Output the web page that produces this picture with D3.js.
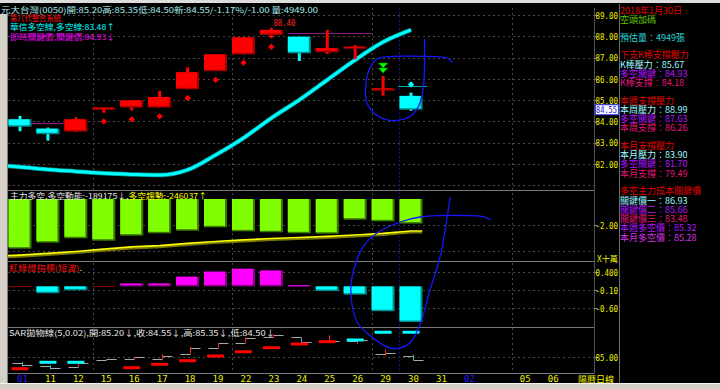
<!DOCTYPE html>
<html>
<head>
<meta charset="utf-8">
<script src="https://cdn.jsdelivr.net/npm/d3@7"></script>
<style>
  html, body { margin: 0; padding: 0; background: #000; overflow: hidden; }
</style>
</head>
<body>
<div id="chart"></div>
<script>
// ---- data ----
const dates = ["01", "11", "12", "15", "16", "17", "18", "19", "22", "23", "24", "25", "26", "29", "30", "31", "02", "", "05", "06"];
const monthMarkIdx = [0, 16];
const weekBreaks = [2.5, 7.5, 12.5, 17.5];
const todayBreak = 13.5;

const opens  = [84.10, 83.66, 83.52, 84.55, 84.65, 84.65, 85.51, 86.36, 87.15, 88.06, 87.98, 87.25, 87.46, 85.45, 85.20];
const highs  = [84.26, 83.71, 84.20, 84.65, 84.99, 85.43, 86.54, 87.15, 87.95, 88.40, 87.98, 88.30, 87.59, 86.13, 85.35];
const lows   = [83.54, 83.10, 83.50, 84.41, 84.51, 84.65, 85.51, 86.36, 87.15, 87.91, 86.84, 87.17, 86.92, 85.21, 84.50];
const closes = [83.75, 83.40, 84.10, 84.65, 84.99, 85.15, 86.31, 87.15, 87.95, 88.30, 87.20, 87.44, 87.51, 85.55, 84.55];
const volume = 4949;
// band value of the day before the first bar, then one per bar
const bandPrev = 81.95;
const bandLine = [81.86, 81.74, 81.65, 81.56, 81.51, 81.48, 81.72, 82.42, 83.22, 84.16, 85.01, 85.95, 86.89, 87.73, 88.30];
const supportDots = [null, null, null, 84.00, 84.10, 84.24, 85.10, 85.95, 86.76, 87.51, null, null, null, null, null];
const resistDots  = [null, null, null, null, null, null, null, null, null, null, null, null, null, null, 85.74];
const keyLevels = [{ from: 0, to: 2, value: 83.91 }, { from: 10, to: 13, value: 88.14 }];
const sellSignals = [13];
const highLabelIdx = 9;

const momentum = [-3.82, -3.36, -3.02, -3.21, -2.82, -2.64, -2.44, -2.18, -2.49, -2.56, -2.64, -2.67, -1.59, -1.72, -1.89175];
const trendPrev = -4.42;
const trend    = [-4.31, -4.19, -4.04, -3.85, -3.69, -3.58, -3.42, -3.27, -3.15, -3.04, -2.96, -2.88, -2.77, -2.65, -2.46037];
const signal   = [0, -0.19, -0.11, 0, 0.08, 0.08, 0.27, 0.41, 0.49, 0.44, 0.03, -0.13, -0.23, -0.69, -0.99];
const sar      = [83.23, 84.20, 84.20, null, 83.38, 83.89, 84.44, 85.15, 85.80, 86.41, 86.97, 87.32, 87.58, 88.75, 88.75];

const priceTicks = [89, 88, 87, 86, 85, 84, 83, 82];
const priceGrid = [89, 88, 87, 86, 85, 84, 83, 82, 81];
const momTicks = [-2];
const momGrid = [-2, -4];
const sigTicks = [0.4, -0.1, -0.6];
const sigLabels = ["0.400", "-0.10", "-0.60"];
const sarTicks = [85];

const infoDate = "2018年1月30日";
const infoSignal = "空頭加碼";
const infoGroups = [
  { title: "下支K棒支撐壓力", items: [["K棒壓力", 85.67], ["多空關鍵", 84.93], ["K棒支撐", 84.18]] },
  { title: "本週支撐壓力", items: [["本周壓力", 88.99], ["多空關鍵", 87.63], ["本周支撐", 86.26]] },
  { title: "本月支撐壓力", items: [["本月壓力", 83.90], ["多空關鍵", 81.70], ["本月支撐", 79.49]] },
  { title: "多空主力成本關鍵價", items: [["關鍵價一", 86.93], ["關鍵價二", 85.66], ["關鍵價三", 83.48], ["本週多空價", 85.32], ["本月多空價", 85.28]] }
];

// hand drawn marks, in (slot, price) and (slot, signal value)
const noteLoop = [[15.50, 86.75], [15.29, 86.98], [14.68, 87.05], [13.96, 87.07], [13.25, 87.05], [12.78, 86.93], [12.50, 86.42], [12.37, 85.57], [12.42, 84.87], [12.71, 84.35], [13.14, 84.07], [13.61, 84.07], [14.03, 84.30], [14.32, 84.87], [14.45, 85.71], [14.48, 86.65], [14.48, 87.87]];
const noteHook = [[16.86, 1.844], [16.54, 1.942], [15.93, 1.969], [15.04, 1.969], [14.32, 1.928], [13.61, 1.789], [12.78, 1.483], [12.28, 1.094], [12.00, 0.594], [11.85, 0.039], [11.89, -0.517], [12.07, -0.989], [12.42, -1.294], [12.89, -1.572], [13.25, -1.711], [13.61, -1.711], [13.96, -1.572], [14.32, -1.072], [14.68, -0.100], [15.04, 0.817], [15.25, 1.706], [15.40, 2.483]];

// ---- setup ----
const cjk = "'Noto Sans CJK TC', 'Noto Sans CJK SC', sans-serif";
const mono = "'DejaVu Sans Mono', 'Liberation Mono', monospace";
const yellow = "#f0f000";

const left = 8, axisX = 594.5, sepX = 619.5, topY = 8, bottomY = 373;
const sepYs = [190, 261, 327, 373];

const svg = d3.select("#chart").append("svg")
  .attr("width", 720).attr("height", 389)
  .style("display", "block").style("background", "#000");

svg.append("defs").append("clipPath").attr("id", "plot-clip")
  .append("rect").attr("x", left).attr("y", 0).attr("width", axisX - left).attr("height", bottomY);

const x = d3.scaleLinear().domain([0, dates.length - 1]).range([20, 550.7]);
const bodyW = 23;
const yP = d3.scaleLinear().domain([82, 89]).range([164, 15]);
const yM = d3.scaleLinear().domain([0, -2]).range([199, 225]);
const yS = d3.scaleLinear().domain([0.4, -0.6]).range([272, 308]);
const yR = d3.scaleLinear().domain([85, 89]).range([357, 330.6]);
const crisp = (v) => Math.round(v) + 0.5;

function bevel(g, x0, y0, w, h, fill, shade) {
  g.append("rect").attr("x", x0).attr("y", y0).attr("width", w).attr("height", h).attr("fill", shade);
  g.append("rect").attr("x", x0).attr("y", y0)
    .attr("width", Math.max(0, w - 2)).attr("height", Math.max(1, h - 1.5)).attr("fill", fill);
}

function txt(g, x0, y0, parts, size, len, family) {
  const t = g.append("text").attr("x", x0).attr("y", y0)
    .attr("dominant-baseline", "central")
    .attr("font-family", family || cjk).attr("font-size", size);
  parts.forEach((p) => t.append("tspan").attr("fill", p[1]).text(p[0]));
  if (len) t.attr("textLength", len).attr("lengthAdjust", "spacingAndGlyphs");
  return t;
}

// ---- grid ----
const grid = svg.append("g").attr("stroke", "#474747").attr("stroke-dasharray", "2,3");
priceGrid.forEach((v) => grid.append("line").attr("x1", left).attr("x2", axisX).attr("y1", crisp(yP(v))).attr("y2", crisp(yP(v))));
momGrid.forEach((v) => grid.append("line").attr("x1", left).attr("x2", axisX).attr("y1", crisp(yM(v))).attr("y2", crisp(yM(v))));
sigTicks.forEach((v) => grid.append("line").attr("x1", left).attr("x2", axisX).attr("y1", crisp(yS(v))).attr("y2", crisp(yS(v))));
sarTicks.forEach((v) => grid.append("line").attr("x1", left).attr("x2", axisX).attr("y1", crisp(yR(v))).attr("y2", crisp(yR(v))));
weekBreaks.forEach((b) => grid.append("line")
  .attr("x1", crisp(x(b) + 3)).attr("x2", crisp(x(b) + 3)).attr("y1", topY).attr("y2", bottomY));

svg.append("line")
  .attr("x1", crisp(x(todayBreak) + 2)).attr("x2", crisp(x(todayBreak) + 2))
  .attr("y1", topY).attr("y2", bottomY)
  .attr("stroke", "#10108c").attr("stroke-dasharray", "2,2");

// panel separators and axis lines
sepYs.forEach((s) => svg.append("line").attr("x1", left).attr("x2", axisX).attr("y1", s + 0.5).attr("y2", s + 0.5).attr("stroke", "#7a7a7a"));
svg.append("line").attr("x1", axisX).attr("x2", axisX).attr("y1", topY).attr("y2", bottomY).attr("stroke", "#505050");
svg.append("line").attr("x1", sepX).attr("x2", sepX).attr("y1", 4).attr("y2", 383).attr("stroke", "#6e6e6e");

// ---- main panel ----
const gMain = svg.append("g").attr("clip-path", "url(#plot-clip)");
keyLevels.forEach((k) => gMain.append("line")
  .attr("x1", x(k.from) - bodyW / 2).attr("x2", x(k.to) - bodyW / 2)
  .attr("y1", crisp(yP(k.value))).attr("y2", crisp(yP(k.value)))
  .attr("stroke", "#8a1a8a"));

const bandPts = [[-1, bandPrev]].concat(bandLine.map((v, i) => [i, v]));
const bandGen = d3.line().x((d) => x(d[0])).y((d) => yP(d[1])).curve(d3.curveMonotoneX);
gMain.append("path").datum(bandPts).attr("fill", "none").attr("stroke", "#008c8c").attr("stroke-width", 4.5).attr("d", bandGen);
gMain.append("path").datum(bandPts).attr("fill", "none").attr("stroke", "#00ffff").attr("stroke-width", 3).attr("d", bandGen);

const candles = opens.map((o, i) => ({ i, o, h: highs[i], l: lows[i], c: closes[i] }));
candles.forEach((d) => {
  const up = d.c >= d.o;
  const fill = up ? "#ff0000" : "#00ffff";
  const shade = up ? "#a00000" : "#008c8c";
  const cx = x(d.i);
  gMain.append("rect").attr("x", cx - 1.5).attr("y", yP(d.h)).attr("width", 3)
    .attr("height", Math.max(1, yP(d.l) - yP(d.h))).attr("fill", fill);
  const top = yP(Math.max(d.o, d.c)), bot = yP(Math.min(d.o, d.c));
  bevel(gMain, cx - bodyW / 2, top, bodyW, Math.max(2, bot - top), fill, shade);
});

const dotSym = d3.symbol().type(d3.symbolSquare).size(20);
supportDots.forEach((v, i) => {
  if (v == null) return;
  gMain.append("path").attr("d", dotSym).attr("fill", "#ff0000")
    .attr("transform", `translate(${x(i)},${yP(v)}) rotate(45)`);
});
resistDots.forEach((v, i) => {
  if (v == null) return;
  const k = infoGroups[0].items[0][1];
  gMain.append("line").attr("x1", x(i) - 13).attr("x2", x(i) + 16)
    .attr("y1", crisp(yP(k))).attr("y2", crisp(yP(k))).attr("stroke", "#00a8a8");
  gMain.append("path").attr("d", dotSym).attr("fill", "#00ffff")
    .attr("transform", `translate(${x(i)},${yP(v)}) rotate(45)`);
});

sellSignals.forEach((i) => {
  const cx = x(i), ty = yP(highs[i]) - 3;
  [0, 5].forEach((off) => {
    gMain.append("path")
      .attr("d", `M${cx - 4.5},${ty - 10 + off}L${cx + 4.5},${ty - 10 + off}L${cx},${ty - 5 + off}Z`)
      .attr("fill", "#00ff00").attr("stroke", "#00a000").attr("stroke-width", 0.6);
  });
});

txt(gMain, x(highLabelIdx) + 2, yP(highs[highLabelIdx]) - 5, [[highs[highLabelIdx].toFixed(2), "#ff2a2a"]], 9, 22, mono);

// ---- panel 2: 主力多空 ----
const g2 = svg.append("g").attr("clip-path", "url(#plot-clip)");
momentum.forEach((v, i) => {
  bevel(g2, x(i) - bodyW / 2, yM(0), bodyW, yM(v) - yM(0), "#80ff00", "#3c7a00");
});
const trendPts = [[-0.5, (trendPrev + trend[0]) / 2]].concat(trend.map((v, i) => [i, v]), [[14.4, trend[14]]]);
const trendGen = d3.line().x((d) => x(d[0])).y((d) => yM(d[1]));
g2.append("path").datum(trendPts).attr("fill", "none").attr("stroke", "#767600").attr("stroke-width", 2)
  .attr("transform", "translate(0,1.6)").attr("d", trendGen);
g2.append("path").datum(trendPts).attr("fill", "none").attr("stroke", "#ffff00").attr("stroke-width", 1.7).attr("d", trendGen);

// ---- panel 3: 紅綠燈 ----
const g3 = svg.append("g");
signal.forEach((v, i) => {
  const x0 = x(i) - bodyW / 2;
  if (v === 0) {
    g3.append("line").attr("x1", x0).attr("x2", x0 + bodyW).attr("y1", crisp(yS(0))).attr("y2", crisp(yS(0))).attr("stroke", "#8a0000");
  } else if (v > 0) {
    bevel(g3, x0, yS(v), bodyW, yS(0) - yS(v), "#ff00ff", "#8a008a");
  } else {
    bevel(g3, x0, yS(0), bodyW, yS(v) - yS(0), "#00ffff", "#008c8c");
  }
});

// ---- panel 4: SAR ----
const g4 = svg.append("g");
candles.forEach((d) => {
  const cx = Math.round(x(d.i) + 2) + 0.5;
  const up = d.c >= d.o;
  g4.append("line").attr("x1", cx - 10).attr("x2", cx).attr("y1", crisp(yR(d.o))).attr("y2", crisp(yR(d.o))).attr("stroke", "#a8a8a8");
  g4.append("line").attr("x1", cx).attr("x2", cx + 10).attr("y1", crisp(yR(d.c))).attr("y2", crisp(yR(d.c))).attr("stroke", "#a8a8a8");
  g4.append("line").attr("x1", cx).attr("x2", cx).attr("y1", yR(d.h)).attr("y2", yR(d.l)).attr("stroke", up ? "#ff2020" : "#3cb4b4");
});
sar.forEach((v, i) => {
  if (v == null) return;
  const below = v < closes[i];
  g4.append("rect").attr("x", x(i) - 8.5).attr("y", yR(v) - 1.5).attr("width", 17).attr("height", 3)
    .attr("fill", below ? "#ff0000" : "#00ffff");
});

// ---- headers ----
const gT = svg.append("g");
const n = closes.length - 1;
const chg = closes[n] - closes[n - 1];
const pct = chg / closes[n - 1] * 100;
const f2 = (v) => v.toFixed(2);
txt(gT, 1, 8.5, [[`元大台灣(0050)開:${f2(opens[n])}高:${f2(highs[n])}低:${f2(lows[n])}新:${f2(closes[n])}/${f2(pct)}%/${f2(chg)} 量:${volume.toFixed(2)}`, "#a6eeee"]], 8, 317);
txt(gT, 10, 16.5, [["第八代整合系統.", "#ff1010"]], 8, 53);
txt(gT, 10, 26, [["華信多空線,多空線:83.48↑", "#00ffff"]], 8, 105);
txt(gT, 10, 35.5, [["即時關鍵價,關鍵價:84.93↓", "#ff00ff"]], 8, 105);

const arrow = (a, b) => (a >= b ? "↑" : "↓");
txt(gT, 10, 195, [
  [`主力多空,多空動能:${Math.round(momentum[n] * 100000)}${arrow(momentum[n], momentum[n - 1])},`, "#e6e6e6"],
  [`多空趨勢:${Math.round(trend[n] * 100000)}${arrow(trend[n], trend[n - 1])}`, "#ffff00"]
], 8, 197);
txt(gT, 9, 266.7, [["紅綠燈指標(短波)", "#ff1010"], [".", "#ffff00"]], 8, 73);
txt(gT, 9, 332.3, [
  ["SAR拋物線(5,0.02)", "#e6e6e6"], [",", "#ffff00"],
  [`開:${f2(opens[n])}${arrow(opens[n], opens[n - 1])},收:${f2(closes[n])}${arrow(closes[n], closes[n - 1])},高:${f2(highs[n])}${arrow(highs[n], highs[n - 1])},低:${f2(lows[n])}${arrow(lows[n], lows[n - 1])}`, "#e6e6e6"]
], 8, 266);

// ---- axes ----
function rightAxis(scale, values, fmt) {
  const g = svg.append("g").attr("transform", `translate(${axisX},0)`)
    .call(d3.axisRight(scale).tickValues(values).tickSize(3).tickFormat(fmt));
  g.select(".domain").remove();
  g.selectAll(".tick line").attr("stroke", "#909090");
  g.selectAll(".tick text")
    .attr("x", 23.5).attr("dy", "0.35em").attr("text-anchor", "end")
    .attr("fill", yellow).attr("font-family", mono).attr("font-size", 9)
    .attr("textLength", (d) => fmt(d).length * 4.5).attr("lengthAdjust", "spacingAndGlyphs");
  return g;
}
rightAxis(yP, priceTicks, (d) => d.toFixed(2));
rightAxis(yM, momTicks, (d) => d.toFixed(2));
rightAxis(yS, sigTicks, (d) => sigLabels[sigTicks.indexOf(d)]);
rightAxis(yR, sarTicks, (d) => d.toFixed(2));
txt(svg, 597, 258, [["X十萬", yellow]], 8.5, 21);

// current price tag
const gTag = svg.append("g");
gTag.append("rect").attr("x", 595.5).attr("y", yP(closes[n]) - 5).attr("width", 23).attr("height", 10)
  .attr("fill", "#f4f4ff").attr("stroke", "#3a3aff");
gTag.append("text").attr("x", 617).attr("y", yP(closes[n])).attr("dominant-baseline", "central")
  .attr("text-anchor", "end").attr("font-family", mono).attr("font-size", 9).attr("fill", "#2828c8")
  .attr("textLength", 21).attr("lengthAdjust", "spacingAndGlyphs").text(f2(closes[n]));

const xAxis = svg.append("g").attr("transform", `translate(0,${bottomY})`)
  .call(d3.axisBottom(x).tickValues(d3.range(dates.length)).tickSize(0).tickFormat((i) => dates[i]));
xAxis.select(".domain").remove();
xAxis.selectAll(".tick text")
  .attr("x", 2).attr("y", 6).attr("dy", "0.35em")
  .attr("font-family", mono).attr("font-size", 9)
  .attr("fill", (i) => (monthMarkIdx.includes(i) ? "#1e1eff" : yellow));
txt(svg, 578, 379, [["陽曆日線", yellow]], 9, 36);

// ---- info panel ----
const gI = svg.append("g");
const paleCyan = "#9ef8ff", violet = "#b414ff", pink = "#e8147c", magenta = "#d82ee8";
const itemColors = [paleCyan, violet, pink, violet, magenta];
const lh = 9.25, gap = 8.3, ix = 620, fs = 9;
let yy = 10;
txt(gI, ix, yy, [[infoDate, "#e00000"]], fs); yy += lh;
txt(gI, ix, yy, [[infoSignal, "#5cc800"]], fs); yy += lh + gap;
txt(gI, ix, yy, [[`預估量：${volume}張`, "#28d8d8"]], fs); yy += lh + gap;
infoGroups.forEach((g) => {
  txt(gI, ix, yy, [[g.title, "#e00000"]], fs); yy += lh;
  g.items.forEach((it, k) => {
    txt(gI, ix, yy, [[`${it[0]}：${f2(it[1])}`, itemColors[k]]], fs); yy += lh;
  });
  yy += gap;
});

// ---- hand drawn notes ----
const noteMain = d3.line().x((d) => x(d[0])).y((d) => yP(d[1])).curve(d3.curveCatmullRom);
const noteLow = d3.line().x((d) => x(d[0])).y((d) => yS(d[1])).curve(d3.curveCatmullRom);
svg.append("path").datum(noteLoop).attr("fill", "none").attr("stroke", "#1616ff").attr("stroke-width", 1.3).attr("d", noteMain);
svg.append("path").datum(noteHook).attr("fill", "none").attr("stroke", "#1616ff").attr("stroke-width", 1.3).attr("d", noteLow);

// ---- window chrome ----
svg.append("rect").attr("x", 0).attr("y", 0).attr("width", 720).attr("height", 3).attr("fill", "#dcdcdc");
svg.append("rect").attr("x", 0).attr("y", 14).attr("width", 7).attr("height", 369).attr("fill", "#d4d0c8");
svg.append("line").attr("x1", 7.5).attr("x2", 7.5).attr("y1", 14).attr("y2", 383).attr("stroke", "#808080");
svg.append("rect").attr("x", 0).attr("y", 383).attr("width", 720).attr("height", 6).attr("fill", "#d4d0c8");
svg.append("line").attr("x1", 0).attr("x2", 720).attr("y1", 383.5).attr("y2", 383.5).attr("stroke", "#f4f4f4");
</script>
</body>
</html>
